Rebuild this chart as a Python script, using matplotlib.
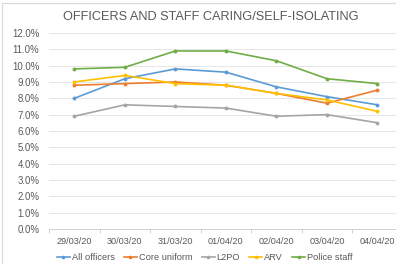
import numpy as np
import matplotlib
matplotlib.use('Agg')
import matplotlib.pyplot as plt
from matplotlib.ticker import PercentFormatter

plt.rcParams['font.family'] = ['Liberation Sans', 'DejaVu Sans']

dates = ['29/03/20', '30/03/20', '31/03/20', '01/04/20', '02/04/20', '03/04/20', '04/04/20']
all_officers = [8.0, 9.2, 9.8, 9.6, 8.7, 8.1, 7.6]
core_uniform = [8.8, 8.9, 9.0, 8.8, 8.3, 7.7, 8.5]
l2po = [6.9, 7.6, 7.5, 7.4, 6.9, 7.0, 6.5]
arv = [9.0, 9.4, 8.9, 8.8, 8.3, 7.9, 7.2]
police_staff = [9.8, 9.9, 10.9, 10.9, 10.3, 9.2, 8.9]

series = [('All officers', all_officers, '#5B9BD5'),
          ('Core uniform', core_uniform, '#ED7D31'),
          ('L2PO', l2po, '#A5A5A5'),
          ('ARV', arv, '#FFC000'),
          ('Police staff', police_staff, '#70AD47')]

fig = plt.figure(figsize=(3.96, 2.64), dpi=100)
# chart frame like the excel export
fig.patches.append(plt.Rectangle((0.006, -0.1), 1.2, 1.088, transform=fig.transFigure,
                                 fill=False, edgecolor='#d9d9d9', linewidth=0.8))
ax = fig.add_axes([0.124, 0.133, 0.893, 0.742])

x = np.arange(len(dates))
for name, vals, col in series:
    ax.plot(x, vals, color=col, linewidth=1.2, marker='o', markersize=1.8, label=name)

ax.set_xlim(-0.5, len(dates) - 0.5)
ax.set_ylim(0, 12)
ax.set_yticks(np.arange(0, 12.1, 1))
ax.yaxis.set_major_formatter(PercentFormatter(decimals=1))
ax.set_xticks(x)
ax.set_xticklabels(dates)
ax.set_xticks(np.arange(-0.5, len(dates), 1), minor=True)
ax.tick_params(axis='x', which='major', length=0, pad=6, labelsize=6.6, colors='#595959')
ax.tick_params(axis='x', which='minor', length=3, color='#d0d0d0', width=0.7)
ax.tick_params(axis='y', length=0, pad=7, labelsize=6.9, colors='#595959')
ax.grid(axis='y', color='#e6e6e6', linewidth=0.7)
ax.set_axisbelow(True)
for s in ['top', 'right', 'left']:
    ax.spines[s].set_visible(False)
ax.spines['bottom'].set_color('#d0d0d0')
ax.spines['bottom'].set_linewidth(0.7)

fig.text(0.532, 0.935, 'OFFICERS AND STAFF CARING/SELF-ISOLATING', ha='center', va='center',
         fontsize=9.2, color='#595959')

ax.legend(loc='upper center', bbox_to_anchor=(0.44, -0.08), ncol=5, frameon=False,
          fontsize=6.7, labelcolor='#595959', handlelength=1.4, handletextpad=0.2,
          columnspacing=1.0, markerscale=0.9)

fig.savefig('out.png', dpi=100)
